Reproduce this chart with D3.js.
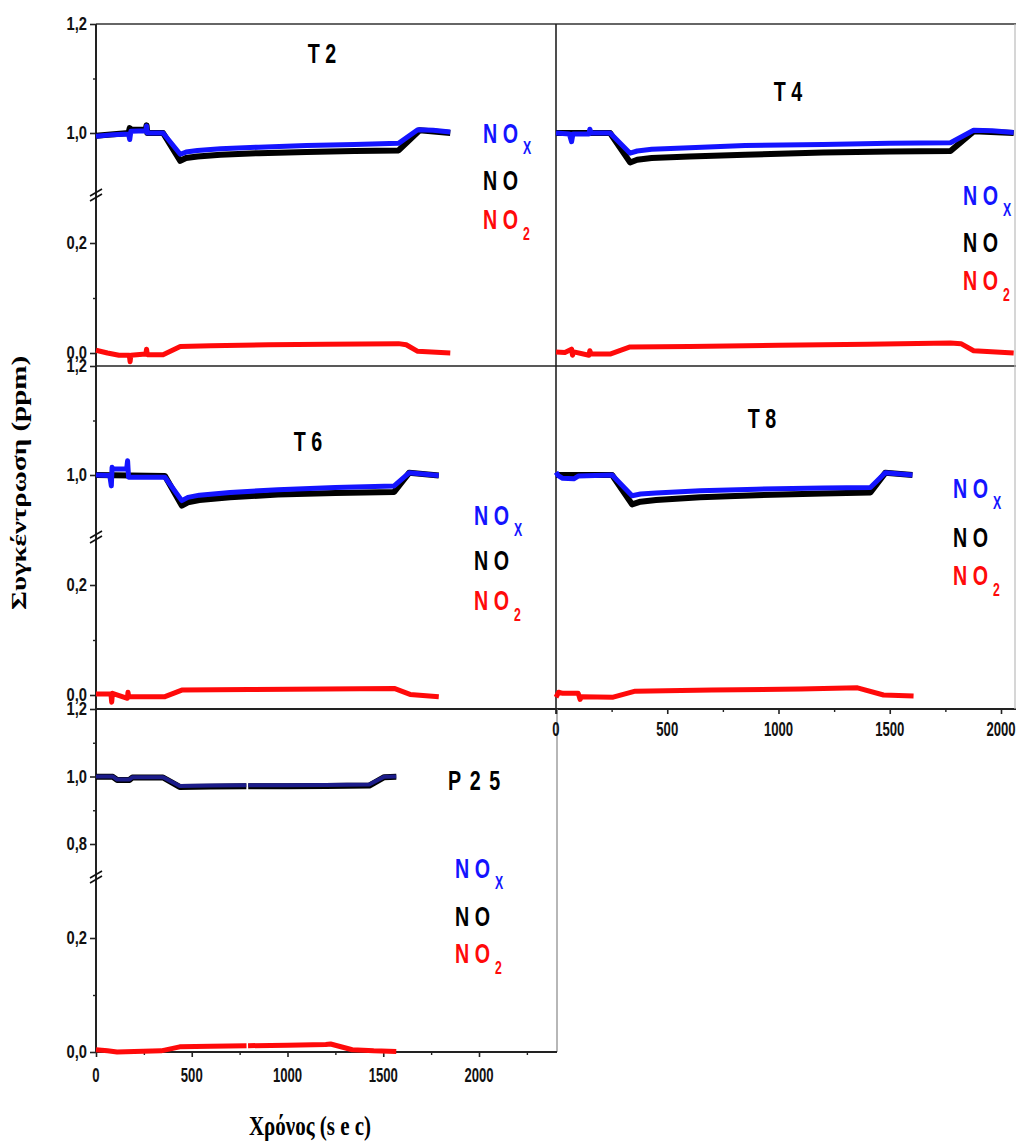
<!DOCTYPE html>
<html><head><meta charset="utf-8">
<script src="https://cdn.jsdelivr.net/npm/d3@7"></script>
<style>body{margin:0;background:#fff} svg{display:block}</style>
</head><body>
<script>
// ---------------- DATA (time in s, concentration in ppm) ----------------
const xTicks = [0, 500, 1000, 1500, 2000];
const xMinorTicks = [250, 750, 1250, 1750, 2250];
const yUpperTicksT = [1.0, 1.2];
const yUpperMinorT = [1.1];
const yUpperTicksP = [0.8, 1.0, 1.2];
const yUpperMinorP = [0.9, 1.1];
const yLowerTicks = [0.0, 0.2];
const yLowerMinor = [0.1];
const panelNames = ["T 2", "T 4", "T 6", "T 8", "P 2 5"];

const t2NOx = [[0,0.994],[90,0.997],[170,0.998],[176,0.988],[182,1.003],[260,1.004],[264,1.013],[268,1.0],[350,1.0],[440,0.961],[470,0.965],[530,0.968],[650,0.971],[850,0.974],[1100,0.977],[1350,0.979],[1580,0.981],[1680,1.006],[1760,1.005],[1850,1.002]];
const t2NO  = [[0,0.995],[170,1.0],[176,1.009],[182,1.006],[260,1.006],[264,1.014],[268,1.0],[350,1.0],[440,0.949],[470,0.954],[530,0.957],[650,0.960],[850,0.963],[1100,0.965],[1350,0.967],[1580,0.968],[1690,1.005],[1850,1.0]];
const t2NO2 = [[0,0.005],[60,0.0],[120,-0.004],[174,-0.004],[178,-0.016],[182,-0.004],[260,-0.002],[264,0.007],[268,-0.003],[350,-0.003],[440,0.012],[600,0.013],[900,0.015],[1200,0.016],[1580,0.017],[1620,0.015],[1680,0.003],[1850,0.0]];

const t4NOx = [[0,1.0],[60,0.998],[70,0.984],[76,0.998],[148,0.998],[152,1.007],[158,1.0],[243,1.0],[333,0.963],[365,0.967],[430,0.970],[600,0.973],[850,0.977],[1200,0.979],[1500,0.981],[1773,0.982],[1877,1.005],[1960,1.004],[2057,1.001]];
const t4NO  = [[0,1.0],[243,1.0],[333,0.946],[365,0.951],[430,0.954],[600,0.957],[850,0.960],[1200,0.964],[1500,0.966],[1773,0.967],[1877,1.003],[2057,1.0]];
const t4NO2 = [[0,0.002],[40,0.001],[70,0.007],[74,-0.004],[80,0.002],[148,-0.004],[152,0.004],[158,-0.002],[243,-0.002],[333,0.011],[600,0.012],[1000,0.014],[1400,0.016],[1773,0.018],[1820,0.017],[1877,0.004],[2057,0.0]];

const t6NOx = [[0,1.0],[72,0.999],[80,0.98],[84,1.014],[90,1.011],[160,1.011],[165,1.026],[170,0.996],[360,0.996],[448,0.953],[480,0.959],[540,0.963],[700,0.968],[950,0.973],[1250,0.977],[1557,0.980],[1635,1.004],[1790,0.999]];
const t6NO  = [[0,1.0],[360,0.998],[448,0.944],[480,0.950],[540,0.954],[700,0.959],[950,0.964],[1250,0.967],[1557,0.969],[1635,1.004],[1790,0.999]];
const t6NO2 = [[0,0.002],[78,0.002],[82,-0.013],[86,0.003],[164,-0.006],[167,0.005],[171,-0.003],[360,-0.003],[448,0.009],[800,0.010],[1200,0.011],[1557,0.012],[1640,0.001],[1790,-0.003]];

const t8NOx = [[0,1.005],[10,0.999],[30,0.994],[80,0.993],[100,0.998],[252,1.0],[342,0.962],[380,0.965],[450,0.967],[648,0.971],[900,0.974],[1200,0.976],[1413,0.977],[1480,1.004],[1602,1.0]];
const t8NO  = [[0,1.0],[252,1.0],[342,0.946],[380,0.951],[450,0.954],[648,0.959],[900,0.963],[1200,0.966],[1413,0.968],[1480,1.004],[1602,1.0]];
const t8NO2 = [[0,-0.004],[12,0.005],[30,0.003],[100,0.003],[108,-0.008],[115,-0.003],[257,-0.004],[356,0.007],[700,0.009],[1100,0.011],[1355,0.013],[1472,0.0],[1607,-0.002]];

const p25NOx = [[0,1.0],[88,1.0],[110,0.991],[175,0.991],[190,0.998],[350,0.998],[437,0.972],[600,0.973],[785,0.974],[790,null],[795,0.974],[1000,0.974],[1200,0.975],[1427,0.976],[1505,0.999],[1568,1.0]];
const p25NO  = [[0,0.999],[88,0.999],[110,0.990],[175,0.990],[190,0.997],[350,0.997],[437,0.969],[600,0.970],[785,0.971],[790,null],[795,0.971],[1000,0.971],[1200,0.972],[1427,0.973],[1505,0.998],[1568,0.999]];
const p25NO2 = [[0,0.004],[60,0.002],[110,0.0],[200,0.001],[340,0.002],[437,0.009],[600,0.010],[786,0.011],[790,null],[794,0.011],[1000,0.012],[1200,0.013],[1225,0.014],[1338,0.004],[1450,0.002],[1568,0.001]];

// ---------------- LAYOUT ----------------
const W = 1017, H = 1145;
const SANS = "'Liberation Sans',Arial,sans-serif";
const SERIF = "'Liberation Serif','Times New Roman',serif";
const NX = 0.82; // narrow-font horizontal compression
const svg = d3.select("body").append("svg").attr("width", W).attr("height", H);

const xLeft = d3.scaleLinear([0, 2000], [96, 479]);
const xRight = d3.scaleLinear([0, 2000], [556, 1001]);

function tRow(top) {
  return {
    up: d3.scaleLinear([1.0, 1.2], [top + 109, top]),
    lo: d3.scaleLinear([0.0, 0.2], [top + 329, top + 219]),
    brk: top + 171
  };
}
const rowA = tRow(24), rowB = tRow(366);
const rowP = { up: d3.scaleLinear([0.8, 1.2], [844, 709]), lo: d3.scaleLinear([0.0, 0.2], [1052, 938]), brk: 877 };

const panels = [
  { name: panelNames[0], x: xLeft,  row: rowA, data: [t2NOx, t2NO, t2NO2], title: [322, 63], legend: [483, 143, 190, 229], axis: true },
  { name: panelNames[1], x: xRight, row: rowA, data: [t4NOx, t4NO, t4NO2], title: [788, 101], legend: [963, 205, 252, 290], axis: false },
  { name: panelNames[2], x: xLeft,  row: rowB, data: [t6NOx, t6NO, t6NO2], title: [308, 451], legend: [474, 525, 570, 610], axis: true },
  { name: panelNames[3], x: xRight, row: rowB, data: [t8NOx, t8NO, t8NO2], title: [762, 428], legend: [953, 498, 547, 585], axis: false },
  { name: panelNames[4], x: xLeft,  row: rowP, data: [p25NOx, p25NO, p25NO2], title: [475, 790], legend: [455, 878, 926, 963], axis: true, p: true }
];

function txt(g, x, y, str, o) {
  return g.append("text")
    .attr("transform", `translate(${x},${y}) scale(${o.sx || NX},${o.sy || 1})`)
    .attr("font-family", o.family || SANS)
    .attr("font-weight", o.weight || "bold")
    .attr("font-size", o.size)
    .attr("letter-spacing", o.ls || 0)
    .attr("text-anchor", o.anchor || "start")
    .attr("fill", o.fill || "#000")
    .text(str);
}
const fmt = v => d3.format(".1f")(v).replace(".", ",");

// ---------------- FRAMES ----------------
const frame = svg.append("g").attr("fill", "none");
const seg = (x1, y1, x2, y2, c, w) => frame.append("line").attr("x1", x1).attr("y1", y1).attr("x2", x2).attr("y2", y2)
  .attr("stroke", c || "#222").attr("stroke-width", w || 1.6);
seg(96, 24, 1016, 24, "#333");
seg(96, 366, 1016, 366, "#222");
seg(96, 709, 1016, 709, "#222", 1.8);
seg(556, 24, 556, 714, "#222");
seg(1015, 24, 1015, 709, "#bbb", 1.2);
seg(557, 709, 557, 1052, "#999", 1.4);
seg(96, 1052, 557, 1052, "#222", 2);
seg(96, 24, 96, 1052, "#222", 2);

// ---------------- Y AXES ----------------
panels.filter(p => p.axis).forEach(p => {
  const r = p.row;
  const g = svg.append("g");
  const majUp = p.p ? yUpperTicksP : yUpperTicksT;
  const minUp = p.p ? yUpperMinorP : yUpperMinorT;
  [[r.up, majUp, minUp], [r.lo, yLowerTicks, yLowerMinor]].forEach(([s, maj, min]) => {
    const a = g.append("g").attr("transform", "translate(96,0)")
      .call(d3.axisLeft(s).tickValues(maj).tickSize(6).tickFormat(""));
    a.select(".domain").remove();
    a.selectAll("line").attr("stroke", "#222").attr("stroke-width", 1.6);
    maj.forEach(v => txt(g, 87, s(v) + 6.3, fmt(v), { size: 18, anchor: "end", fill: "#111" }));
    const m = g.append("g").attr("transform", "translate(96,0)")
      .call(d3.axisLeft(s).tickValues(min).tickSize(3).tickFormat(""));
    m.select(".domain").remove();
    m.selectAll("line").attr("stroke", "#222").attr("stroke-width", 1.4);
  });
  // break mark
  const b = r.brk;
  g.append("line").attr("x1", 90).attr("y1", b + 1).attr("x2", 102).attr("y2", b - 6).attr("stroke", "#111").attr("stroke-width", 1.6);
  g.append("line").attr("x1", 90).attr("y1", b + 6).attr("x2", 102).attr("y2", b - 1).attr("stroke", "#111").attr("stroke-width", 1.6);
});

// ---------------- X AXES ----------------
function xAxis(s, y, labelY, xmaxPix) {
  const g = svg.append("g").attr("transform", `translate(0,${y})`);
  const a = g.call(d3.axisBottom(s).tickValues(xTicks).tickSize(5).tickFormat(""));
  a.select(".domain").remove();
  a.selectAll("line").attr("stroke", "#222").attr("stroke-width", 1.6);
  const m = svg.append("g").attr("transform", `translate(0,${y})`)
    .call(d3.axisBottom(s).tickValues(xMinorTicks.filter(v => s(v) < xmaxPix)).tickSize(3).tickFormat(""));
  m.select(".domain").remove();
  m.selectAll("line").attr("stroke", "#222").attr("stroke-width", 1.4);
  xTicks.forEach(v => txt(svg, s(v), labelY, String(v), { size: 16, sy: 1.3, anchor: "middle", fill: "#111" }));
}
xAxis(xRight, 709, 736, 1015);
xAxis(xLeft, 1052, 1082, 557);

// ---------------- SERIES ----------------
const colors = { NOx: "#1414ff", NO: "#000", NO2: "#ff0a0a" };
panels.forEach(p => {
  const r = p.row;
  const yv = v => v > 0.5 ? r.up(v) : r.lo(v);
  const line = d3.line().defined(d => d[1] != null).x(d => p.x(d[0])).y(d => yv(d[1]));
  const g = svg.append("g").attr("fill", "none").attr("stroke-linejoin", "round").attr("stroke-linecap", "butt");
  g.append("path").attr("d", line(p.data[1])).attr("stroke", colors.NO).attr("stroke-width", 6);
  g.append("path").attr("d", line(p.data[0])).attr("stroke", p.p ? "#1c1c8a" : colors.NOx).attr("stroke-width", p.p ? 4 : 5);
  g.append("path").attr("d", line(p.data[2])).attr("stroke", colors.NO2).attr("stroke-width", 5);

  // title
  txt(svg, p.title[0], p.title[1], p.name, { size: 24, sy: 1.15, anchor: "middle", ls: p.p ? 2 : 0 });
  // legend
  const [lx, y1, y2, y3] = p.legend;
  const l1 = txt(svg, lx, y1, "N O", { size: 24, sy: 1.18, fill: "#1414ff" });
  l1.append("tspan").attr("dx", 6).attr("dy", 9).attr("font-size", 15).text("X");
  txt(svg, lx, y2, "N O", { size: 24, sy: 1.18, fill: "#000" });
  const l3 = txt(svg, lx, y3, "N O", { size: 24, sy: 1.18, fill: "#ff0a0a" });
  l3.append("tspan").attr("dx", 6).attr("dy", 9).attr("font-size", 15).text("2");
});

// ---------------- AXIS TITLES ----------------
txt(svg, 310, 1135, "Χρόνος (s e c)", { family: SERIF, size: 21, sx: 1, sy: 1.3, anchor: "middle" });
svg.append("text")
  .attr("transform", "translate(26,483) rotate(-90) scale(1.38,1)")
  .attr("font-family", SERIF).attr("font-weight", "bold").attr("font-size", 21)
  .attr("text-anchor", "middle").attr("fill", "#000")
  .text("Συγκέντρωση (ppm)");
</script>
</body></html>
